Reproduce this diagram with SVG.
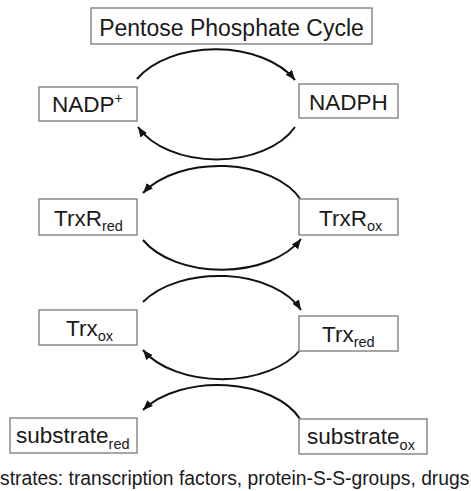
<svg xmlns="http://www.w3.org/2000/svg" width="471" height="491" viewBox="0 0 471 491">
<style>
.box{fill:#fff;stroke:#8a8a8a;stroke-width:1.5}
.lbl{font-family:"Liberation Sans",Arial,sans-serif;font-size:22.5px;fill:#1a1a1a}
.sub{font-size:14.5px}
.arc{fill:none;stroke:#111;stroke-width:2}
</style>
<defs>
<marker id="ah" markerUnits="userSpaceOnUse" markerWidth="10" markerHeight="8" refX="10" refY="4" orient="auto">
<path d="M0,0 L10,4 L0,8 z" fill="#111"/>
</marker>
</defs>
<rect width="471" height="491" fill="#fff"/>
<g id="connectors">
<path class="arc" d="M137,79 A89,56 0 0 1 295,80" marker-end="url(#ah)"/>
<path class="arc" d="M295,127 A86,55 0 0 1 138,127" marker-end="url(#ah)"/>
<path class="arc" d="M301,200 A88,54 0 0 0 143,193" marker-end="url(#ah)"/>
<path class="arc" d="M143,240 A88,54 0 0 0 301,239" marker-end="url(#ah)"/>
<path class="arc" d="M143,302 A88,53 0 0 1 301,310" marker-end="url(#ah)"/>
<path class="arc" d="M301,349 A88,53 0 0 1 143,350" marker-end="url(#ah)"/>
<path class="arc" d="M300,419 A88,53 0 0 0 143,410" marker-end="url(#ah)"/>
</g>
<g id="ppc"><rect class="box" x="91" y="8" width="281" height="36"/><text class="lbl" x="231.5" y="36" text-anchor="middle" style="font-size:23px">Pentose Phosphate Cycle</text></g>
<g id="nadp"><rect class="box" x="39" y="87" width="98" height="34"/><text class="lbl" x="52" y="112">NADP<tspan style="font-size:14px" dy="-9">+</tspan></text></g>
<g id="nadph"><rect class="box" x="299" y="84" width="99" height="34"/><text class="lbl" x="309" y="110">NADPH</text></g>
<g id="trxr_red"><rect class="box" x="39" y="199" width="98" height="36"/><text class="lbl" x="54" y="226">TrxR<tspan class="sub" dy="5">red</tspan></text></g>
<g id="trxr_ox"><rect class="box" x="299" y="199" width="99" height="36"/><text class="lbl" x="319" y="226">TrxR<tspan class="sub" dy="5">ox</tspan></text></g>
<g id="trx_ox"><rect class="box" x="39" y="310" width="98" height="35"/><text class="lbl" x="66" y="336">Trx<tspan class="sub" dy="5">ox</tspan></text></g>
<g id="trx_red"><rect class="box" x="299" y="316" width="99" height="35"/><text class="lbl" x="322" y="342">Trx<tspan class="sub" dy="5">red</tspan></text></g>
<g id="sub_red"><rect class="box" x="10" y="418" width="127" height="35"/><text class="lbl" x="16" y="443">substrate<tspan class="sub" dy="6">red</tspan></text></g>
<g id="sub_ox"><rect class="box" x="299" y="419" width="128" height="35"/><text class="lbl" x="307" y="444">substrate<tspan class="sub" dy="6">ox</tspan></text></g>
<text class="lbl" x="0" y="485" style="font-size:19.3px">strates: transcription factors, protein-S-S-groups, drugs</text>
</svg>
